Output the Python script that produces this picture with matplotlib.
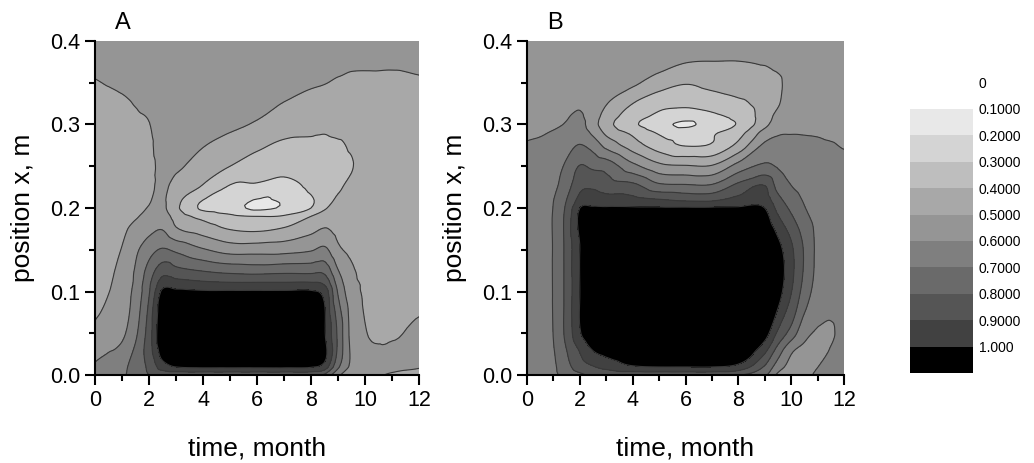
import matplotlib.pyplot as plt
import matplotlib.tri as mtri
import numpy as np
from matplotlib.ticker import MultipleLocator

plt.rcParams['font.family'] = ['Liberation Sans', 'DejaVu Sans']

# grid: columns = time (month), rows = position x (m)
time_a = [0, 0.5, 1, 1.5, 2, 2.5, 3, 4, 5, 6, 7, 8, 8.5, 9, 9.5, 10, 11, 12]
pos_a = [0, 0.01, 0.05, 0.1, 0.11, 0.125, 0.15, 0.175, 0.19, 0.2,
         0.225, 0.25, 0.275, 0.3, 0.35, 0.4]
val_a = [
    [0.62, 0.66, 0.68, 0.76, 0.80, 0.82, 0.82, 0.82, 0.82, 0.82, 0.82, 0.82, 0.78, 0.62, 0.56, 0.53, 0.49, 0.47],
    [0.61, 0.64, 0.67, 0.75, 0.82, 0.95, 1.005, 1.02, 1.02, 1.02, 1.02, 1.01, 0.96, 0.72, 0.58, 0.53, 0.52, 0.505],
    [0.52, 0.55, 0.58, 0.68, 0.85, 1.10, 1.20, 1.20, 1.20, 1.20, 1.20, 1.10, 1.01, 0.78, 0.57, 0.505, 0.49, 0.52],
    [0.47, 0.497, 0.55, 0.63, 0.79, 1.02, 1.02, 1.01, 1.01, 1.01, 1.01, 1.01, 0.96, 0.69, 0.54, 0.49, 0.46, 0.47],
    [0.46, 0.49, 0.54, 0.62, 0.78, 0.95, 0.94, 0.92, 0.91, 0.91, 0.91, 0.91, 0.88, 0.66, 0.53, 0.49, 0.46, 0.47],
    [0.45, 0.48, 0.53, 0.61, 0.74, 0.86, 0.83, 0.795, 0.77, 0.76, 0.77, 0.77, 0.77, 0.605, 0.515, 0.48, 0.46, 0.47],
    [0.44, 0.46, 0.505, 0.58, 0.66, 0.71, 0.68, 0.61, 0.56, 0.56, 0.565, 0.59, 0.62, 0.52, 0.48, 0.47, 0.46, 0.46],
    [0.44, 0.45, 0.48, 0.53, 0.57, 0.595, 0.51, 0.45, 0.395, 0.38, 0.41, 0.47, 0.505, 0.47, 0.46, 0.46, 0.46, 0.46],
    [0.44, 0.45, 0.47, 0.49, 0.53, 0.55, 0.46, 0.37, 0.32, 0.30, 0.31, 0.40, 0.44, 0.45, 0.45, 0.455, 0.46, 0.46],
    [0.44, 0.45, 0.465, 0.475, 0.505, 0.52, 0.42, 0.28, 0.24, 0.18, 0.215, 0.30, 0.39, 0.43, 0.445, 0.45, 0.46, 0.46],
    [0.44, 0.45, 0.46, 0.465, 0.48, 0.52, 0.46, 0.39, 0.29, 0.285, 0.27, 0.32, 0.37, 0.39, 0.42, 0.445, 0.46, 0.46],
    [0.44, 0.45, 0.46, 0.46, 0.47, 0.53, 0.52, 0.45, 0.40, 0.35, 0.33, 0.35, 0.37, 0.38, 0.395, 0.44, 0.46, 0.46],
    [0.44, 0.45, 0.46, 0.465, 0.48, 0.55, 0.55, 0.505, 0.46, 0.42, 0.38, 0.38, 0.38, 0.39, 0.41, 0.44, 0.46, 0.46],
    [0.45, 0.45, 0.46, 0.48, 0.497, 0.55, 0.56, 0.54, 0.52, 0.49, 0.45, 0.43, 0.42, 0.43, 0.43, 0.45, 0.46, 0.46],
    [0.495, 0.505, 0.515, 0.53, 0.55, 0.56, 0.56, 0.56, 0.56, 0.55, 0.53, 0.51, 0.503, 0.49, 0.48, 0.48, 0.48, 0.49],
    [0.56, 0.56, 0.56, 0.56, 0.56, 0.56, 0.56, 0.56, 0.56, 0.56, 0.56, 0.56, 0.56, 0.56, 0.56, 0.56, 0.56, 0.56],
]

# grid
time_b = [0, 0.5, 1, 1.5, 2, 2.5, 3, 4, 5, 6, 7, 8, 9, 9.5, 10, 10.5, 11, 11.5, 12]
pos_b = [0, 0.01, 0.03, 0.05, 0.1, 0.15, 0.2, 0.21, 0.225, 0.25,
         0.275, 0.29, 0.3, 0.31, 0.325, 0.35, 0.375, 0.4]
val_b = [
    [0.65, 0.67, 0.68, 0.74, 0.78, 0.82, 0.83, 0.83, 0.83, 0.83, 0.83, 0.81, 0.72, 0.58, 0.56, 0.57, 0.62, 0.64, 0.65],
    [0.65, 0.67, 0.685, 0.77, 0.85, 0.895, 0.93, 0.99, 1.005, 1.005, 1.005, 0.97, 0.79, 0.65, 0.57, 0.56, 0.598, 0.63, 0.65],
    [0.65, 0.67, 0.695, 0.80, 0.91, 1.005, 1.05, 1.10, 1.15, 1.15, 1.15, 1.10, 0.93, 0.76, 0.62, 0.58, 0.57, 0.605, 0.64],
    [0.65, 0.67, 0.702, 0.83, 0.99, 1.10, 1.20, 1.20, 1.20, 1.20, 1.20, 1.20, 1.05, 0.88, 0.76, 0.63, 0.59, 0.59, 0.63],
    [0.65, 0.67, 0.705, 0.83, 1.00, 1.10, 1.20, 1.20, 1.20, 1.20, 1.20, 1.20, 1.20, 1.05, 0.905, 0.76, 0.66, 0.64, 0.64],
    [0.65, 0.67, 0.705, 0.83, 1.00, 1.10, 1.20, 1.20, 1.20, 1.20, 1.20, 1.20, 1.15, 1.04, 0.92, 0.79, 0.68, 0.66, 0.65],
    [0.64, 0.66, 0.703, 0.82, 1.00, 1.01, 1.01, 1.01, 1.01, 1.01, 1.01, 1.01, 1.00, 0.87, 0.78, 0.705, 0.66, 0.65, 0.65],
    [0.64, 0.66, 0.698, 0.80, 0.93, 0.95, 0.94, 0.93, 0.905, 0.88, 0.88, 0.93, 0.95, 0.83, 0.75, 0.69, 0.655, 0.645, 0.645],
    [0.63, 0.65, 0.68, 0.76, 0.88, 0.89, 0.86, 0.84, 0.74, 0.73, 0.73, 0.84, 0.91, 0.77, 0.705, 0.67, 0.645, 0.64, 0.64],
    [0.62, 0.63, 0.65, 0.72, 0.805, 0.78, 0.76, 0.63, 0.53, 0.51, 0.51, 0.64, 0.72, 0.69, 0.66, 0.64, 0.63, 0.63, 0.625],
    [0.605, 0.61, 0.62, 0.66, 0.705, 0.66, 0.57, 0.45, 0.35, 0.295, 0.31, 0.43, 0.62, 0.63, 0.62, 0.615, 0.61, 0.605, 0.595],
    [0.59, 0.595, 0.605, 0.62, 0.65, 0.58, 0.48, 0.38, 0.29, 0.26, 0.29, 0.36, 0.54, 0.59, 0.597, 0.597, 0.595, 0.59, 0.585],
    [0.58, 0.585, 0.59, 0.605, 0.63, 0.54, 0.44, 0.32, 0.24, 0.18, 0.25, 0.31, 0.47, 0.56, 0.58, 0.59, 0.585, 0.585, 0.58],
    [0.575, 0.58, 0.585, 0.595, 0.61, 0.55, 0.46, 0.35, 0.28, 0.25, 0.28, 0.33, 0.45, 0.53, 0.57, 0.58, 0.58, 0.58, 0.575],
    [0.57, 0.57, 0.575, 0.58, 0.59, 0.56, 0.505, 0.40, 0.33, 0.32, 0.345, 0.38, 0.44, 0.49, 0.56, 0.57, 0.57, 0.57, 0.57],
    [0.56, 0.56, 0.56, 0.57, 0.57, 0.56, 0.56, 0.52, 0.45, 0.407, 0.43, 0.45, 0.45, 0.48, 0.545, 0.56, 0.56, 0.56, 0.56],
    [0.56, 0.56, 0.56, 0.56, 0.56, 0.56, 0.56, 0.56, 0.54, 0.504, 0.498, 0.498, 0.51, 0.53, 0.55, 0.56, 0.56, 0.56, 0.56],
    [0.56, 0.56, 0.56, 0.56, 0.56, 0.56, 0.56, 0.56, 0.56, 0.55, 0.56, 0.56, 0.56, 0.56, 0.56, 0.56, 0.56, 0.56, 0.56],
]

levels = [0, 0.1, 0.2, 0.3, 0.4, 0.5, 0.6, 0.7, 0.8, 0.9, 1.0, 10]
band_colors = ['#ffffff', '#e8e8e8', '#d4d4d4', '#bebebe', '#a8a8a8', '#959595',
               '#7f7f7f', '#6a6a6a', '#555555', '#414141', '#000000']
legend_labels = ['0', '0.1000', '0.2000', '0.3000', '0.4000', '0.5000',
                 '0.6000', '0.7000', '0.8000', '0.9000', '1.000']

W, H = 1034, 463
fig = plt.figure(figsize=(W / 100, H / 100), dpi=100)


def smooth_tri(t, x, z):
    # triangulate the read grid (x scaled so both axes are comparable),
    # then let matplotlib's cubic refiner round off the contour shapes
    tt, xx = np.meshgrid(t, x)
    nx, nt = len(x), len(t)
    tris = []
    for i in range(nx - 1):
        for j in range(nt - 1):
            a = i * nt + j
            tris.append([a, a + 1, a + nt + 1])
            tris.append([a, a + nt + 1, a + nt])
    scale = 30.0
    tri = mtri.Triangulation(tt.ravel(), xx.ravel() * scale, np.array(tris))
    zz = np.array(z).ravel()
    interp = mtri.CubicTriInterpolator(tri, zz, kind='geom')
    ref = mtri.UniformTriRefiner(tri)
    tri_r, z_r = ref.refine_field(zz, triinterpolator=interp, subdiv=3)
    tri_r = mtri.Triangulation(tri_r.x, tri_r.y / scale, tri_r.triangles)
    return tri_r, z_r


def panel(left_px, right_px, t, x, z, letter):
    ax = fig.add_axes([left_px / W, 1 - 375 / H, (right_px - left_px) / W, 334 / H])
    tri_r, z_r = smooth_tri(t, x, z)
    ax.tricontourf(tri_r, z_r, levels=levels, colors=band_colors)
    ax.tricontour(tri_r, z_r, levels=levels[1:-1], colors='#383838', linewidths=0.8)
    ax.set_xlim(0, 12)
    ax.set_ylim(0, 0.4)
    ax.xaxis.set_major_locator(MultipleLocator(2))
    ax.xaxis.set_minor_locator(MultipleLocator(1))
    ax.yaxis.set_major_locator(MultipleLocator(0.1))
    ax.yaxis.set_minor_locator(MultipleLocator(0.05))
    for s in ['top', 'right']:
        ax.spines[s].set_visible(False)
    for s in ['left', 'bottom']:
        ax.spines[s].set_linewidth(1.5)
    ax.tick_params(which='major', direction='out', length=7, width=1.5, labelsize=15.5)
    ax.tick_params(which='minor', direction='out', length=4, width=1.5)
    ax.set_xlabel('time, month', fontsize=19, labelpad=19)
    ax.set_ylabel('position x, m', fontsize=19, labelpad=11)
    ax.text(0.062, 1.02, letter, transform=ax.transAxes, fontsize=17,
            ha='left', va='bottom')
    return ax


panel(95, 419, time_a, pos_a, val_a, 'A')
panel(527, 844, time_b, pos_b, val_b, 'B')

# discrete legend on the right
cb = fig.add_axes([910 / W, 1 - 373 / H, 63 / W, (373 - 82.6) / H])
cb.bar([0.5] * 10, 0.1, bottom=levels[1:-1], width=1.0,
       color=band_colors[1:], edgecolor='none')
cb.set_xlim(0, 1)
cb.set_ylim(1.1, 0)
cb.set_xticks([])
cb.set_yticks(levels[:-1])
cb.set_yticklabels(legend_labels)
cb.yaxis.tick_right()
cb.tick_params(axis='y', length=0, labelsize=10, pad=4)
for s in cb.spines.values():
    s.set_visible(False)

fig.savefig('out.png', dpi=100)
